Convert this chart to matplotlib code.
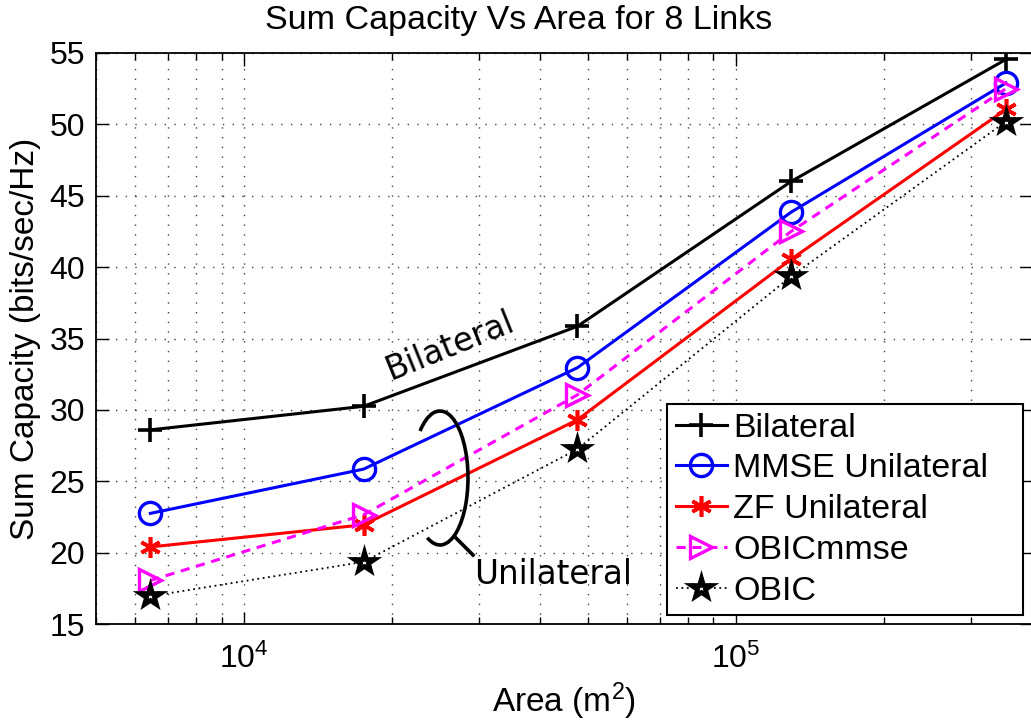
import matplotlib
matplotlib.use("Agg")
import matplotlib.pyplot as plt
from matplotlib.patches import Arc
from matplotlib.markers import MarkerStyle
from matplotlib.ticker import LogLocator, NullFormatter

# ---- data ----
area = [6450, 17500, 47600, 129500, 354000]
bilateral = [28.6, 30.25, 35.85, 46.0, 54.55]
mmse_uni = [22.75, 25.85, 32.95, 43.85, 52.9]
zf_uni = [20.4, 21.95, 29.3, 40.55, 51.05]
obic_mmse = [18.05, 22.65, 31.05, 42.5, 52.5]
obic = [16.95, 19.35, 27.25, 39.35, 50.2]
labels = ["Bilateral", "MMSE Unilateral", "ZF Unilateral", "OBICmmse", "OBIC"]

plt.rcParams['font.family'] = ['Liberation Sans', 'DejaVu Sans']
plt.rcParams['mathtext.fontset'] = 'custom'
plt.rcParams['mathtext.rm'] = 'Liberation Sans'
plt.rcParams['mathtext.it'] = 'Liberation Sans'

fig = plt.figure(figsize=(10.31, 7.25), dpi=100)
ax = fig.add_axes([96/1031, 101/725, 936/1031, 571/725])

star = MarkerStyle('*', joinstyle='miter')

ax.plot(area, bilateral, color='k', lw=2.2, marker='+', ms=17, mew=2.6, label=labels[0])
ax.plot(area, mmse_uni, color='b', lw=2.2, marker='o', ms=16, mew=2.4, mfc='none', label=labels[1])
ax.plot(area, zf_uni, color='r', lw=2.2, marker=(6, 2, 0), ms=15, mew=2.6, label=labels[2])
ax.plot(area, obic_mmse, color='magenta', lw=2.2, ls=(0, (3, 2.2)), marker='>', ms=16, mew=2.4, mfc='none', label=labels[3])
ax.plot(area, obic, color='k', lw=1.3, ls=(0, (1, 2)), marker=star, ms=15, mew=3.4, mfc='white', mec='k', label=labels[4])

ax.set_xscale('log')
ax.set_xlim(5000, 4e5)
ax.set_ylim(15, 55)
ax.set_yticks([15, 20, 25, 30, 35, 40, 45, 50, 55])
ax.xaxis.set_minor_locator(LogLocator(base=10, subs=range(2, 10), numticks=20))
ax.xaxis.set_minor_formatter(NullFormatter())

gstyle = dict(ls=(0, (1, 6)), color='k', lw=1.0, alpha=0.75)
ax.grid(True, which='major', axis='both', **gstyle)
ax.grid(True, which='minor', axis='x', **gstyle)
ax.tick_params(which='both', direction='in', top=True, right=True, labelsize=23, width=1)
ax.tick_params(which='major', length=9)
ax.tick_params(axis='y', which='major', pad=8)
ax.tick_params(axis='x', which='major', pad=14)
ax.tick_params(which='minor', length=5)
for s in ax.spines.values():
    s.set_linewidth(1.3)

ax.set_xlabel(r'Area (m$^2$)', fontsize=24, labelpad=4)
ax.set_ylabel('Sum Capacity (bits/sec/Hz)', fontsize=24, labelpad=6)
fig.text(519/1031, 1 - 29/725, 'Sum Capacity Vs Area for 8 Links', fontsize=24.5,
         ha='center', va='baseline')

leg = ax.legend(loc='upper left', bbox_to_anchor=(667/1031, 1 - 404/725 - 0.01, 356/1031, 0.01),
                bbox_transform=fig.transFigure, mode='expand', fontsize=24.5, frameon=True,
                fancybox=False, framealpha=1, edgecolor='k', borderaxespad=0,
                handlelength=1.5, handletextpad=0.2, labelspacing=0.29, borderpad=0.25)
leg.get_frame().set_linewidth(1.5)

# annotations
ax.text(450, 725 - 346, 'Bilateral', transform=None, family='DejaVu Sans',
        fontsize=23.5, rotation=22, ha='center', va='center')
fig.text(553/1031, 1 - 575/725, 'Unilateral', family='DejaVu Sans',
         fontsize=23.5, ha='center', va='center')
arc = Arc((4.40, 7.25 - 4.78), 0.56, 1.34, theta1=-102, theta2=113,
          transform=fig.dpi_scale_trans, color='k', lw=2.6)
fig.add_artist(arc)
fig.add_artist(plt.Line2D([4.55, 4.73], [7.25 - 5.37, 7.25 - 5.55],
                          transform=fig.dpi_scale_trans, color='k', lw=2.6))

fig.savefig('out.png', dpi=100)
